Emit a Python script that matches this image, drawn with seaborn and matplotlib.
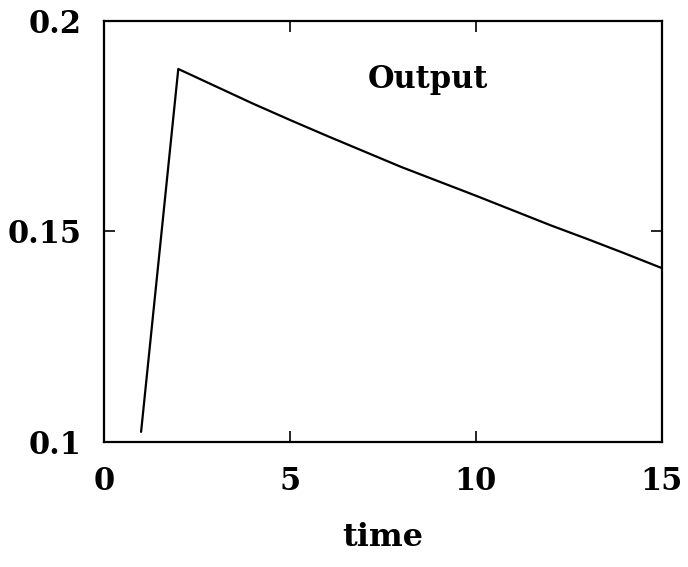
import matplotlib
matplotlib.use("Agg")
import pandas as pd
import seaborn as sns
import matplotlib.pyplot as plt

# values
time = [1, 2, 3, 4, 5, 6, 7, 8, 9, 10, 11, 12, 13, 14, 15]
output = [0.1024, 0.1886, 0.1845, 0.1804, 0.1765, 0.1727, 0.1690, 0.1653,
          0.1619, 0.1585, 0.1550, 0.1515, 0.1482, 0.1448, 0.1413]

x_ticks = [0, 5, 10, 15]
y_ticks = [0.1, 0.15, 0.2]
y_tick_labels = ["0.1", "0.15", "0.2"]

df = pd.DataFrame({"time": time, "Output": output})

sns.set_theme(style="ticks")
plt.rcParams["font.family"] = ["DejaVu Serif"]
plt.rcParams["font.weight"] = "bold"

fig = plt.figure(figsize=(6.88, 5.67), dpi=100)
ax = fig.add_axes([0.151, 0.2205, 0.811, 0.7425])

sns.lineplot(data=df, x="time", y="Output", color="black", linewidth=1.6, ax=ax)

ax.set_xlim(0, 15)
ax.set_ylim(0.1, 0.2)
ax.set_xticks(x_ticks)
ax.set_xticklabels([str(t) for t in x_ticks])
ax.set_yticks(y_ticks)
ax.set_yticklabels(y_tick_labels)
ax.tick_params(direction="in", length=8, width=1.2, top=True, right=True,
               labelsize=22, colors="black")
ax.tick_params(axis="x", pad=17)
ax.tick_params(axis="y", pad=16)
for s in ax.spines.values():
    s.set_linewidth(1.6)
    s.set_color("black")

ax.set_xlabel("time", fontsize=23, fontweight="bold", color="black", labelpad=18)
ax.set_ylabel("")
ax.text(8.7, 0.186, "Output", fontsize=22, fontweight="bold", color="black",
        ha="center", va="center")

fig.savefig("out.png", dpi=100)
